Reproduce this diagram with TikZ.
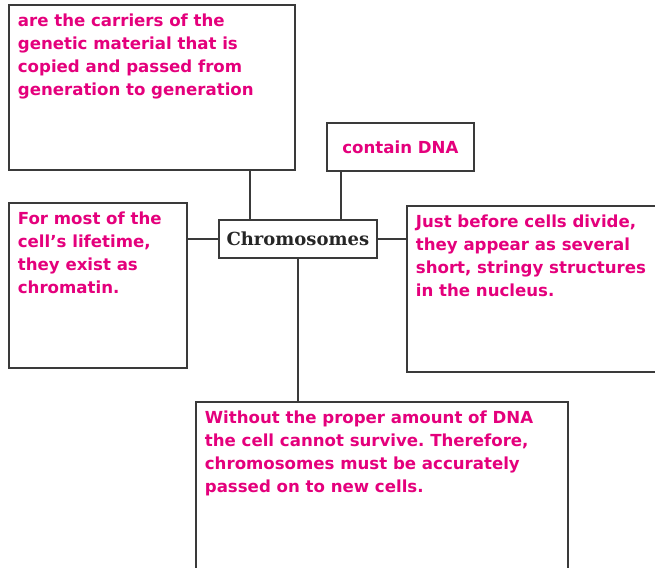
\documentclass[tikz,border=0pt]{standalone}
\usepackage{fontspec}
\usepackage{tikz}
\newfontfamily\cardfont{DejaVu Sans}
\newfontfamily\hubfont{DejaVu Serif}
\definecolor{ink}{HTML}{E4007C}
\definecolor{rule}{HTML}{3A3A3A}
\newcommand{\cardtext}[3]{\parbox[t][#2][t]{#1}{\raggedright\frenchspacing #3}}
\tikzset{
  card/.style={draw=rule,line width=1.8pt,inner sep=9pt,anchor=north west,
    text=ink,font=\cardfont\bfseries\fontsize{16.6}{23}\selectfont},
  tag/.style={card,inner sep=0pt,minimum width=147pt,minimum height=48pt},
  hub/.style={draw=rule,line width=1.8pt,inner sep=0pt,anchor=north west,
    minimum width=158pt,minimum height=38pt,text=black!85,
    font=\hubfont\bfseries\fontsize{18}{22}\selectfont},
  link/.style={draw=rule,line width=1.8pt}
}

\begin{document}
\begin{tikzpicture}[x=1pt,y=-1pt]
\clip (0,0) rectangle (655,567);
\node[hub] (chromo) at (218,219) {Chromosomes};
\node[card] (carriers) at (8,4) {\cardtext{268pt}{147pt}{are the carriers of the\\
  genetic material that is\\copied and passed from\\generation to generation}};
\node[tag] (dna) at (326,122) {contain DNA};
\node[card] (lifetime) at (8,202) {\cardtext{160pt}{147pt}{For most of the\\
  cell’s lifetime,\\they exist as\\chromatin.}};
\node[card] (divide) at (406,205) {\cardtext{234pt}{148pt}{Just before cells divide,\\
  they appear as several\\short, stringy structures\\in the nucleus.}};
\node[card] (survive) at (195,401) {\cardtext{354pt}{162pt}{Without the proper amount of DNA\\
  the cell cannot survive. Therefore,\\chromosomes must be accurately\\passed on to new cells.}};
% connectors
\draw[link] ([xshift=32pt]chromo.north west) -- ([xshift=32pt]chromo.north west |- carriers.south);
\draw[link] ([xshift=15pt]dna.south west) -- ([xshift=15pt]dna.south west |- chromo.north);
\draw[link] (chromo.west) -- (chromo.west -| lifetime.east);
\draw[link] (chromo.east) -- (chromo.east -| divide.west);
\draw[link] (chromo.south) -- (chromo.south |- survive.north);
\end{tikzpicture}
\end{document}
